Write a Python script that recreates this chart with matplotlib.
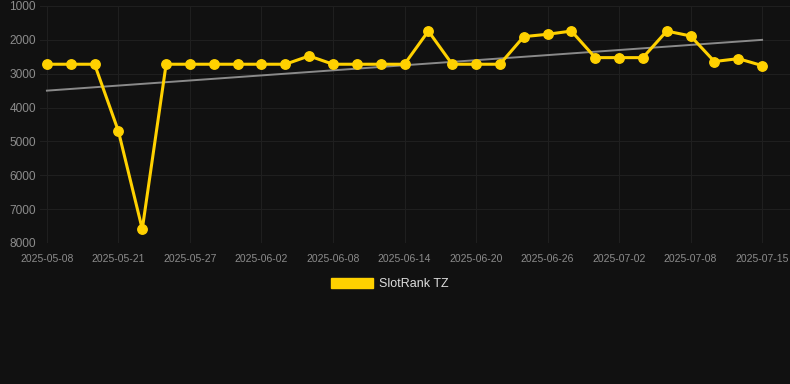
import matplotlib
matplotlib.use("Agg")
import matplotlib.pyplot as plt
from matplotlib.patches import Patch
import numpy as np

plt.rcParams['font.family'] = ['Liberation Sans', 'DejaVu Sans']

dates = ["2025-05-08", "2025-05-12", "2025-05-17", "2025-05-21", "2025-05-23", "2025-05-25",
         "2025-05-27", "2025-05-29", "2025-05-31", "2025-06-02", "2025-06-04", "2025-06-06",
         "2025-06-08", "2025-06-10", "2025-06-12", "2025-06-14", "2025-06-16", "2025-06-18",
         "2025-06-20", "2025-06-22", "2025-06-24", "2025-06-26", "2025-06-28", "2025-06-30",
         "2025-07-02", "2025-07-04", "2025-07-06", "2025-07-08", "2025-07-10", "2025-07-12",
         "2025-07-15"]
ranks = [2720, 2720, 2720, 4700, 7590, 2720, 2720, 2720, 2720, 2720, 2720, 2475,
         2720, 2720, 2720, 2720, 1740, 2720, 2720, 2720, 1905, 1835, 1740, 2525,
         2525, 2525, 1740, 1885, 2640, 2555, 2760]
trend_start, trend_end = 3500, 2000
series_name = "SlotRank TZ"

bg = "#111111"
fig = plt.figure(figsize=(7.9, 3.84), dpi=100, facecolor=bg)
ax = fig.add_axes([40/790, 1-243/384, 750/790, 237/384])
ax.set_facecolor(bg)

x = np.arange(len(dates))
ax.plot([x[0], x[-1]], [trend_start, trend_end], color="#8a8a8a", lw=1.4, zorder=2)
ax.plot(x, ranks, color="#FFD100", lw=2.2, marker="o", markersize=6.8, zorder=3,
        solid_joinstyle="round")

ax.set_ylim(8000, 1000)
ax.set_xlim(-0.29, 31.17)
ax.set_yticks([1000, 2000, 3000, 4000, 5000, 6000, 7000, 8000])
ax.set_xticks(x[::3])
ax.set_xticklabels(dates[::3])
ax.grid(True, color="#1f1f1f", lw=0.8)
ax.set_axisbelow(True)
for s in ax.spines.values():
    s.set_visible(False)
ax.tick_params(axis="y", length=0, pad=3, labelsize=8.6, labelcolor="#8c8c8c")
ax.tick_params(axis="x", length=0, pad=8, labelsize=7.5, labelcolor="#8c8c8c")

leg = fig.legend(handles=[Patch(facecolor="#FFD100", edgecolor="#FFD100")],
                 labels=[series_name], loc="center", bbox_to_anchor=(390/790, 1-284/384),
                 frameon=False, fontsize=9, handlelength=3.3, handleheight=0.9,
                 handletextpad=0.5)
for t in leg.get_texts():
    t.set_color("#dddddd")

fig.savefig("out.png", dpi=100, facecolor=bg)
